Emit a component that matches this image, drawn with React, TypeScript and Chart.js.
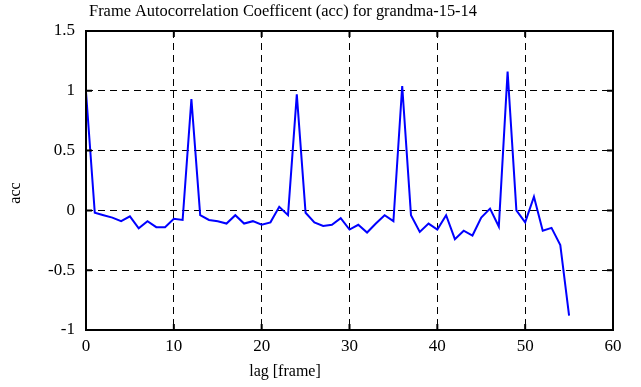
import React, { useEffect, useRef } from "react";
import { Chart, registerables } from "chart.js";

Chart.register(...registerables);

const TITLE = "Frame Autocorrelation Coefficent (acc) for grandma-15-14";
const X_LABEL = "lag [frame]";
const Y_LABEL = "acc";

const lags = [
  0, 1, 2, 3, 4, 5, 6, 7, 8, 9, 10, 11, 12, 13, 14, 15, 16, 17, 18, 19,
  20, 21, 22, 23, 24, 25, 26, 27, 28, 29, 30, 31, 32, 33, 34, 35, 36, 37, 38, 39,
  40, 41, 42, 43, 44, 45, 46, 47, 48, 49, 50, 51, 52, 53, 54, 55,
];

const acc = [
  0.99, -0.02, -0.04, -0.06, -0.09, -0.05, -0.15, -0.09, -0.14, -0.14,
  -0.07, -0.08, 0.93, -0.04, -0.08, -0.09, -0.11, -0.04, -0.11, -0.09,
  -0.12, -0.1, 0.03, -0.04, 0.97, -0.02, -0.1, -0.13, -0.12, -0.065,
  -0.16, -0.12, -0.185, -0.11, -0.04, -0.09, 1.04, -0.04, -0.18, -0.11,
  -0.16, -0.04, -0.24, -0.17, -0.21, -0.06, 0.015, -0.135, 1.16, 0.0,
  -0.1, 0.115, -0.17, -0.146, -0.29, -0.88,
];

const xTicks = [0, 10, 20, 30, 40, 50, 60];
const yTicks = [-1, -0.5, 0, 0.5, 1, 1.5];

const FONT = "'Liberation Serif', 'Times New Roman', serif";

const framePlugin = {
  id: "matlabFrame",
  afterDraw(chart: any) {
    const { ctx, chartArea } = chart;
    const { left, right, top, bottom } = chartArea;
    const xs = chart.scales.x;
    const ys = chart.scales.y;
    ctx.save();
    ctx.strokeStyle = "#000";
    ctx.lineWidth = 2;
    ctx.setLineDash([]);
    ctx.strokeRect(left, top, right - left, bottom - top);
    const tl = 6;
    ctx.beginPath();
    xTicks.forEach((v) => {
      const px = xs.getPixelForValue(v);
      ctx.moveTo(px, bottom);
      ctx.lineTo(px, bottom - tl);
      ctx.moveTo(px, top);
      ctx.lineTo(px, top + tl);
    });
    yTicks.forEach((v) => {
      const py = ys.getPixelForValue(v);
      ctx.moveTo(left, py);
      ctx.lineTo(left + tl, py);
      ctx.moveTo(right, py);
      ctx.lineTo(right - tl, py);
    });
    ctx.stroke();

    ctx.fillStyle = "#000";
    ctx.textAlign = "center";
    ctx.textBaseline = "alphabetic";
    ctx.font = `16.4px ${FONT}`;
    ctx.fillText(TITLE, 283, 16);
    ctx.font = `16px ${FONT}`;
    ctx.fillText(X_LABEL, 285, 376);
    ctx.translate(20, 193);
    ctx.rotate(-Math.PI / 2);
    ctx.fillText(Y_LABEL, 0, 0);
    ctx.restore();
  },
};

export default function App() {
  const ref = useRef<HTMLCanvasElement | null>(null);

  useEffect(() => {
    if (!ref.current) return;
    const chart = new Chart(ref.current, {
      type: "line",
      data: {
        datasets: [
          {
            label: Y_LABEL,
            data: lags.map((l, i) => ({ x: l, y: acc[i] })),
            borderColor: "#0000ff",
            borderWidth: 2,
            pointRadius: 0,
            tension: 0,
            fill: false,
          },
        ],
      },
      options: {
        animation: false,
        responsive: true,
        maintainAspectRatio: false,
        layout: { padding: { top: 31, right: 28, left: 0, bottom: 0 } },
        plugins: {
          legend: { display: false },
          title: { display: false },
          tooltip: { enabled: false },
        },
        scales: {
          x: {
            type: "linear",
            min: 0,
            max: 60,
            afterBuildTicks: (s: any) => {
              s.ticks = xTicks.map((v) => ({ value: v }));
            },
            afterFit: (s: any) => {
              s.height = 57;
            },
            ticks: {
              color: "#000",
              font: { family: FONT, size: 17 },
              padding: 6,
              maxRotation: 0,
              autoSkip: false,
              callback: (v: any) => String(v),
            },
            grid: {
              drawTicks: false,
              lineWidth: 1,
              color: (c: any) =>
                c.tick && (c.tick.value === 0 || c.tick.value === 60) ? "rgba(0,0,0,0)" : "#000",
            },
            border: { display: false, dash: [7, 5] },
          },
          y: {
            type: "linear",
            min: -1,
            max: 1.5,
            afterBuildTicks: (s: any) => {
              s.ticks = yTicks.map((v) => ({ value: v }));
            },
            afterFit: (s: any) => {
              s.width = 86;
            },
            ticks: {
              color: "#000",
              font: { family: FONT, size: 17 },
              padding: 11,
              autoSkip: false,
              callback: (v: any) => String(v),
            },
            grid: {
              drawTicks: false,
              lineWidth: 1,
              color: (c: any) =>
                c.tick && (c.tick.value === -1 || c.tick.value === 1.5) ? "rgba(0,0,0,0)" : "#000",
            },
            border: { display: false, dash: [7, 5] },
          },
        },
      },
      plugins: [framePlugin],
    });
    return () => chart.destroy();
  }, []);

  return (
    <div style={{ position: "fixed", left: 0, top: 0, width: 641, height: 387, background: "#fff" }}>
      <canvas ref={ref} />
    </div>
  );
}
